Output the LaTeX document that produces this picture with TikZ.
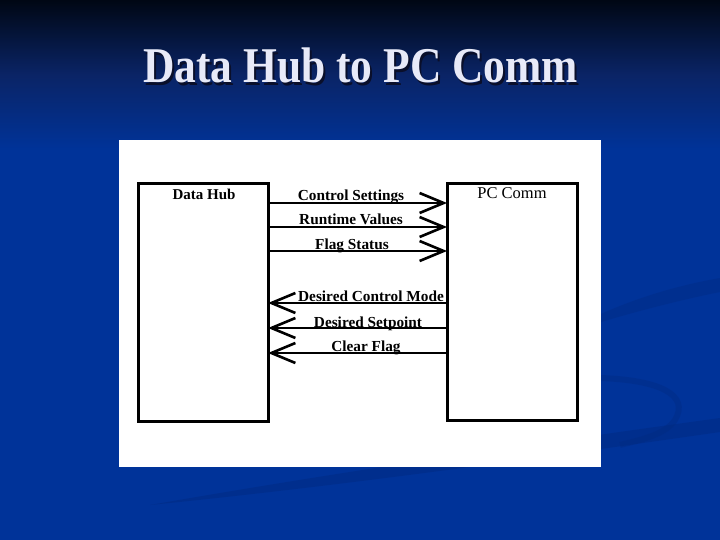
\documentclass[tikz,border=0pt]{standalone}
\usepackage{fontspec}
\setmainfont{Liberation Serif}
\usetikzlibrary{arrows.meta}
\definecolor{bgblue}{HTML}{003399}
\definecolor{bgtop}{HTML}{000714}
\definecolor{bgmid}{HTML}{0A2466}
\definecolor{swoosh}{HTML}{00297F}
\definecolor{titlecol}{HTML}{E8EAF8}
\definecolor{shadowcol}{HTML}{0A0F2A}
\tikzset{
  box/.style={draw=black, line width=3pt, fill=white, outer sep=0pt, inner sep=0pt},
  lbl/.style={font=\fontsize{15.3}{17}\selectfont\bfseries, anchor=base, inner sep=0pt},
  boxlbl/.style={font=\fontsize{15}{17}\selectfont\bfseries, anchor=base, inner sep=0pt},
  flow/.style={line width=2pt, -{Straight Barb[length=24pt,width=20pt,line width=2.6pt]}},
  titletext/.style={font=\fontsize{50}{56}\selectfont\bfseries, anchor=base, xscale=0.87, inner sep=0pt},
}
\begin{document}
\begin{tikzpicture}[x=1pt,y=-1pt]
\useasboundingbox (0,0) rectangle (720,540);
% background
\fill[bgblue] (0,0) rectangle (720,540);
\shade[top color=bgtop, bottom color=bgblue, middle color=bgmid, shading angle=0] (0,0) rectangle (720,150);
% subtle swooshes
\fill[swoosh, opacity=0.35] (560,335) .. controls (620,300) and (680,285) .. (720,278) -- (720,292) .. controls (680,300) and (620,315) .. (560,335) -- cycle;
\draw[swoosh, line width=6pt, opacity=0.35] (600,378) .. controls (660,380) and (690,395) .. (675,420) .. controls (665,435) and (640,440) .. (620,445);
\fill[swoosh, opacity=0.45] (150,505) .. controls (350,470) and (560,440) .. (720,418) -- (720,432) .. controls (560,455) and (350,485) .. (150,505) -- cycle;
% title
\node[titletext, text=shadowcol] (titleshadow) at (362.5,85.5) {Data Hub to PC Comm};
\node[titletext, text=titlecol] (title) at (360.5,83) {Data Hub to PC Comm};
% white panel
\fill[white] (119,140) rectangle (601,467);
% boxes
\node[box, minimum width=130pt, minimum height=237pt] (dh) at (203,302.5) {};
\node[box, minimum width=130pt, minimum height=236pt] (pc) at (512,302) {};
\node[boxlbl] (dhl) at (204,200) {Data Hub};
\node[boxlbl, font=\fontsize{16.5}{18}\selectfont] (pcl) at (512,199) {PC Comm};
% row coordinates
\coordinate (r1) at (0,203);
\coordinate (r2) at (0,227);
\coordinate (r3) at (0,251);
\coordinate (l1) at (0,303);
\coordinate (l2) at (0,328);
\coordinate (l3) at (0,353);
% connectors
\draw[flow] (dh.east |- r1) -- (pc.west |- r1);
\draw[flow] (dh.east |- r2) -- (pc.west |- r2);
\draw[flow] (dh.east |- r3) -- (pc.west |- r3);
\draw[flow] (pc.west |- l1) -- (dh.east |- l1);
\draw[flow] (pc.west |- l2) -- (dh.east |- l2);
\draw[flow] (pc.west |- l3) -- (dh.east |- l3);
% labels
\node[lbl] (t1) at (351,201) {Control Settings};
\node[lbl] (t2) at (351,225) {Runtime Values};
\node[lbl] (t3) at (352,249) {Flag Status};
\node[lbl] (t4) at (371,301) {Desired Control Mode};
\node[lbl] (t5) at (368,327) {Desired Setpoint};
\node[lbl] (t6) at (366,351) {Clear Flag};
\end{tikzpicture}
\end{document}
